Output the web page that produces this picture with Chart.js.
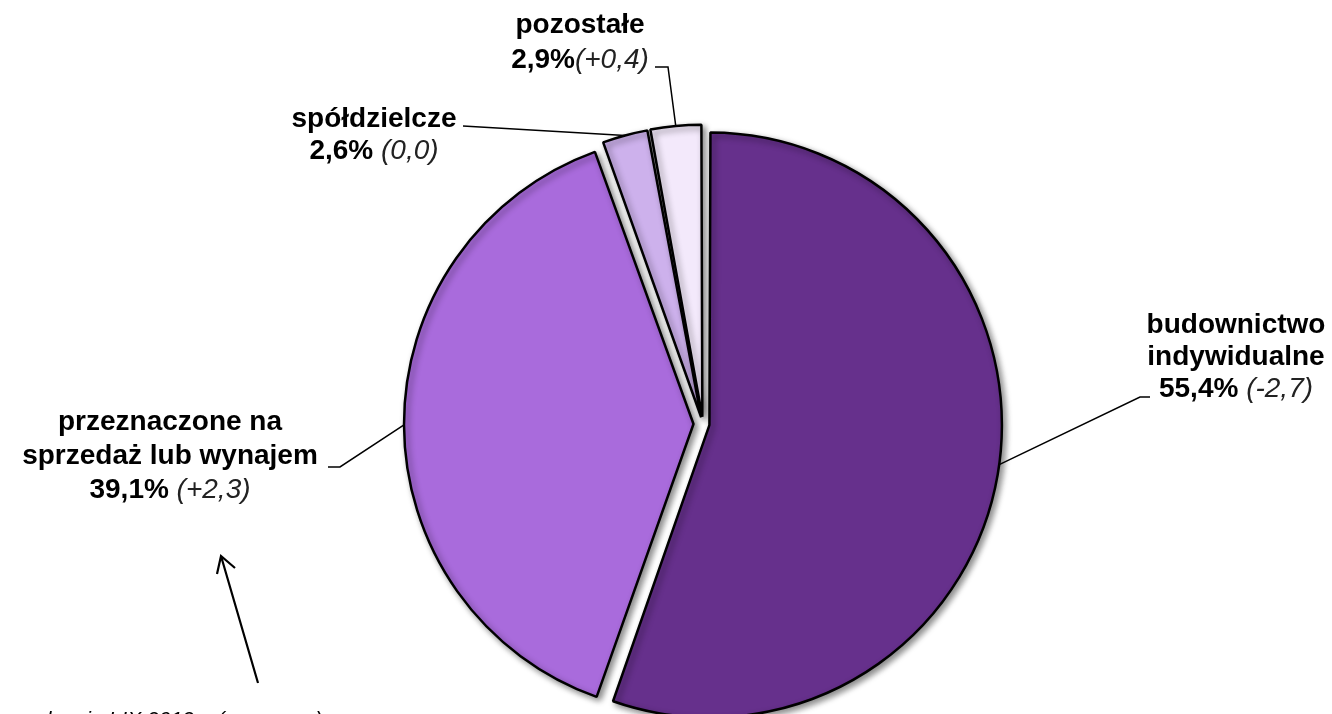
<!DOCTYPE html>
<html lang="pl">
<head>
<meta charset="utf-8">
<title>Struktura mieszkań</title>
<script src="https://cdn.jsdelivr.net/npm/chart.js"></script>
<style>
  html, body { margin: 0; padding: 0; background: #fff; }
  #wrap { width: 1332px; height: 714px; position: relative; overflow: hidden; }
</style>
</head>
<body>
<div id="wrap"><canvas id="pie-chart" width="1332" height="714"></canvas></div>
<script>
const categories = ['budownictwo indywidualne', 'przeznaczone na sprzedaż lub wynajem', 'spółdzielcze', 'pozostałe'];
const labelLines = [['budownictwo', 'indywidualne'], ['przeznaczone na', 'sprzedaż lub wynajem'], ['spółdzielcze'], ['pozostałe']];
const shares = [55.4, 39.1, 2.6, 2.9];
const changes = ['-2,7', '+2,3', '0,0', '+0,4'];
const footnote = 'w okresie I-IX 2013 r. (w p. proc.)';

const sliceColors = ['#66308c', '#a96bdc', '#cdb1ec', '#f3e9fb'];
const sliceOffsets = [26, 38, 28, 29];

// where each label sits and how its leader line bends (style only)
const labelLayout = [
    { cx: 1236, y: 333, lh: 32, sep: ' ', leader: [[1150, 397], [1140, 397]], frac: 0.49 },
    { cx: 170, y: 430, lh: 34, sep: ' ', leader: [[328, 467], [340, 467]], frac: 0.5 },
    { cx: 374, y: 127, lh: 32, sep: ' ', leader: [[463, 126]], frac: 0.5 },
    { cx: 580, y: 33, lh: 35, sep: '', leader: [[655, 67], [668, 67]], frac: 0.5 }
];

const fmtShare = v => v.toFixed(1).replace('.', ',') + '%';

const shadowPlugin = {
    id: 'sliceShadow',
    beforeDatasetsDraw(chart) {
        const ctx = chart.ctx;
        ctx.save();
        ctx.shadowColor = 'rgba(0, 0, 0, 0.45)';
        ctx.shadowBlur = 6;
        ctx.shadowOffsetX = 3;
        ctx.shadowOffsetY = 3;
    },
    afterDatasetsDraw(chart) {
        chart.ctx.restore();
    }
};

const labelPlugin = {
    id: 'sliceLabels',
    afterDraw(chart) {
        const ctx = chart.ctx;
        const meta = chart.getDatasetMeta(0);
        ctx.save();
        ctx.fillStyle = '#000';
        ctx.strokeStyle = '#000';
        ctx.textBaseline = 'alphabetic';

        meta.data.forEach((arc, i) => {
            const p = arc.getProps(['x', 'y', 'startAngle', 'endAngle', 'outerRadius', 'circumference'], true);
            const lay = labelLayout[i];
            const off = sliceOffsets[i];
            const fix = 1 - Math.sin(Math.min(Math.PI, p.circumference));
            const shift = off / 4 * (1 + fix);
            const mid = (p.startAngle + p.endAngle) / 2;
            const ang = p.startAngle + (p.endAngle - p.startAngle) * lay.frac;
            const ax = p.x + Math.cos(mid) * shift + Math.cos(ang) * p.outerRadius;
            const ay = p.y + Math.sin(mid) * shift + Math.sin(ang) * p.outerRadius;

            // leader line
            ctx.lineWidth = 1.5;
            ctx.beginPath();
            ctx.moveTo(lay.leader[0][0], lay.leader[0][1]);
            lay.leader.slice(1).forEach(pt => ctx.lineTo(pt[0], pt[1]));
            ctx.lineTo(ax, ay);
            ctx.stroke();

            // name lines
            ctx.textAlign = 'center';
            ctx.font = 'bold 28px "Liberation Sans", Arial, sans-serif';
            let y = lay.y;
            labelLines[i].forEach(line => {
                ctx.fillText(line, lay.cx, y);
                y += lay.lh;
            });

            // value line: bold share + italic change
            const boldTxt = fmtShare(shares[i]);
            const italTxt = lay.sep + '(' + changes[i] + ')';
            ctx.font = 'bold 28px "Liberation Sans", Arial, sans-serif';
            const wb = ctx.measureText(boldTxt).width;
            ctx.font = 'italic 28px "Liberation Sans", Arial, sans-serif';
            const wi = ctx.measureText(italTxt).width;
            let x = lay.cx - (wb + wi) / 2;
            ctx.textAlign = 'left';
            ctx.font = 'bold 28px "Liberation Sans", Arial, sans-serif';
            ctx.fillText(boldTxt, x, y);
            ctx.font = 'italic 28px "Liberation Sans", Arial, sans-serif';
            ctx.fillStyle = '#222';
            ctx.fillText(italTxt, x + wb, y);
            ctx.fillStyle = '#000';
        });

        // arrow pointing at the label
        ctx.lineWidth = 2.2;
        ctx.beginPath();
        ctx.moveTo(258, 683);
        ctx.lineTo(221, 556);
        ctx.moveTo(217, 574);
        ctx.lineTo(221, 556);
        ctx.lineTo(235, 568);
        ctx.stroke();

        // footnote, cut by the bottom edge as in the source
        ctx.font = 'italic 21px "Liberation Sans", Arial, sans-serif';
        ctx.textAlign = 'left';
        ctx.fillText(footnote, 14, 726);
        ctx.restore();
    }
};

new Chart(document.getElementById('pie-chart'), {
    type: 'pie',
    data: {
        labels: categories,
        datasets: [{
            data: shares,
            backgroundColor: sliceColors,
            borderColor: '#000',
            borderWidth: 2.5,
            offset: sliceOffsets,
            radius: 286
        }]
    },
    options: {
        responsive: false,
        animation: false,
        layout: { padding: { left: 74, right: 0, top: 134, bottom: 0 } },
        plugins: {
            legend: { display: false },
            tooltip: { enabled: false }
        }
    },
    plugins: [shadowPlugin, labelPlugin]
});
</script>
</body>
</html>
